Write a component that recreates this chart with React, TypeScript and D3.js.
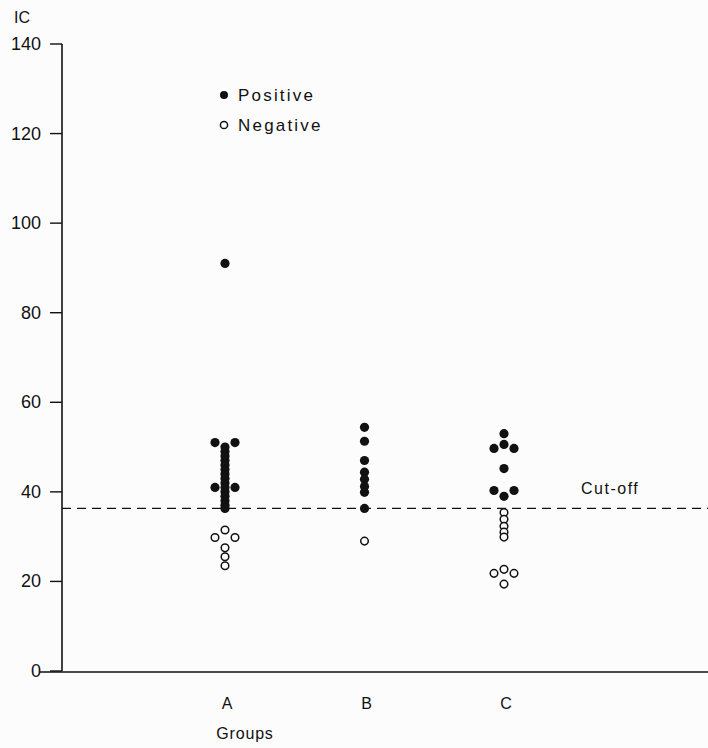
import React from "react";
import * as d3 from "d3";

// ---- data ----
const groups = ["A", "B", "C"];
const yTicks = [0, 20, 40, 60, 80, 100, 120, 140];
const cutoff = 36.3;

// [value, horizontal slot] — slot dodges coincident points
const positiveA: [number, number][] = [
  [91, 0], [51, -1], [51, 1], [50, 0], [49, 0], [48, 0], [47, 0], [46, 0], [45, 0], [44, 0],
  [43, 0], [42, 0], [41, -1], [41, 0], [41, 1], [40, 0], [39, 0], [38, 0], [37, 0], [36.3, 0],
];
const negativeA: [number, number][] = [
  [31.5, 0], [29.8, -1], [29.8, 1], [27.5, 0], [25.5, 0], [23.5, 0],
];
const positiveB: [number, number][] = [
  [54.4, 0], [51.3, 0], [47.0, 0], [44.4, 0], [42.8, 0], [41.2, 0], [39.9, 0], [36.3, 0],
];
const negativeB: [number, number][] = [[29.0, 0]];
const positiveC: [number, number][] = [
  [53.0, 0], [50.6, 0], [49.7, -1], [49.7, 1], [45.2, 0], [40.3, -1], [40.3, 1], [39.0, 0],
];
const negativeC: [number, number][] = [
  [35.4, 0], [33.9, 0], [32.3, 0], [31.0, 0], [29.9, 0], [22.7, 0], [21.8, -1], [21.8, 1], [19.4, 0],
];

const W = 708;
const H = 748;
const FONT = "'Liberation Sans', Arial, sans-serif";
const INK = "#111";

export default function App() {
  const y = d3.scaleLinear().domain([0, 140]).range([671, 44]);
  const x = d3.scalePoint<string>().domain(groups).range([225, 504]);
  const axisX = 62;
  const slotW = 10;

  const series = [
    { g: "A", pos: positiveA, neg: negativeA },
    { g: "B", pos: positiveB, neg: negativeB },
    { g: "C", pos: positiveC, neg: negativeC },
  ];

  return (
    <svg
      width={W}
      height={H}
      style={{ position: "absolute", left: 0, top: 0, background: "#fcfcfc" }}
      fontFamily={FONT}
    >
      <rect x={0} y={0} width={W} height={H} fill="#fcfcfc" />
      {/* y axis */}
      <line x1={axisX} x2={axisX} y1={y(140)} y2={y(0)} stroke={INK} strokeWidth={1.6} />
      {yTicks.map((t) => (
        <g key={t}>
          <line x1={axisX - 12} x2={axisX} y1={y(t)} y2={y(t)} stroke={INK} strokeWidth={1.4} />
          <text
            x={41}
            y={y(t)}
            textAnchor="end"
            dominantBaseline="central"
            fontSize={18}
            fill={INK}
          >
            {t}
          </text>
        </g>
      ))}
      <text x={14} y={17} fontSize={16} fill={INK} dominantBaseline="central">IC</text>

      {/* x axis */}
      <line x1={40} x2={W} y1={y(0) + 1} y2={y(0) + 1} stroke={INK} strokeWidth={1.6} />
      {groups.map((g) => (
        <text
          key={g}
          x={(x(g) as number) + 2}
          y={703}
          textAnchor="middle"
          dominantBaseline="central"
          fontSize={16}
          fill={INK}
        >
          {g}
        </text>
      ))}
      <text x={245} y={733} textAnchor="middle" dominantBaseline="central" fontSize={16} fill={INK} letterSpacing={0.8}>
        Groups
      </text>

      {/* cut-off */}
      <line
        x1={axisX}
        x2={W}
        y1={y(cutoff)}
        y2={y(cutoff)}
        stroke={INK}
        strokeWidth={1.3}
        strokeDasharray="9,6"
      />
      <text x={581} y={y(cutoff) - 14} fontSize={16} fill={INK} letterSpacing={1.5}>
        Cut-off
      </text>

      {/* points */}
      {series.map((s) => (
        <g key={s.g}>
          {s.pos.map(([v, slot], i) => (
            <circle key={"p" + i} cx={(x(s.g) as number) + slot * slotW} cy={y(v)} r={4.6} fill={INK} />
          ))}
          {s.neg.map(([v, slot], i) => (
            <circle
              key={"n" + i}
              cx={(x(s.g) as number) + slot * slotW}
              cy={y(v)}
              r={3.8}
              fill="#fcfcfc"
              stroke={INK}
              strokeWidth={1.5}
            />
          ))}
        </g>
      ))}

      {/* legend */}
      <circle cx={224} cy={95} r={4} fill={INK} />
      <text x={238} y={95} fontSize={17} fill={INK} dominantBaseline="central" letterSpacing={2.2}>
        Positive
      </text>
      <circle cx={224} cy={125} r={3.6} fill="#fcfcfc" stroke={INK} strokeWidth={1.5} />
      <text x={238} y={125} fontSize={17} fill={INK} dominantBaseline="central" letterSpacing={2.2}>
        Negative
      </text>
    </svg>
  );
}
